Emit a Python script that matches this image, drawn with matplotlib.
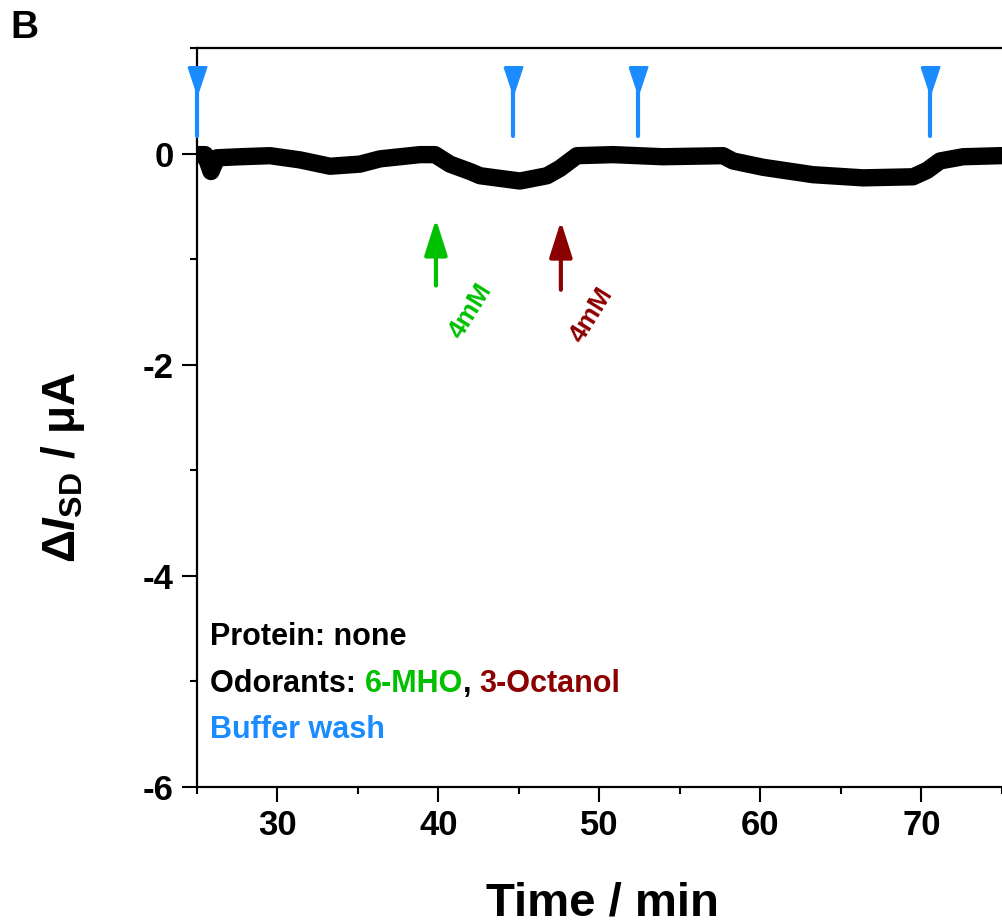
import matplotlib
matplotlib.use("Agg")
import matplotlib.pyplot as plt
from matplotlib.ticker import MultipleLocator, FixedLocator

# ---- data ----
time_min = [25.0, 25.5, 25.87, 26.24, 27.67, 29.53, 31.40, 33.26, 35.12, 36.37,
            38.85, 39.78, 40.71, 41.96, 42.58, 45.06, 46.74, 47.55, 48.60, 50.84,
            53.94, 57.67, 58.29, 60.16, 63.26, 66.37, 69.47, 70.34, 71.15, 72.58,
            74.88, 76.0]
delta_i = [-0.01, -0.01, -0.17, -0.04, -0.03, -0.02, -0.06, -0.12, -0.10, -0.05,
           -0.01, -0.01, -0.10, -0.17, -0.21, -0.26, -0.21, -0.14, -0.02, -0.01,
           -0.03, -0.02, -0.07, -0.13, -0.20, -0.23, -0.22, -0.16, -0.07, -0.03,
           -0.02, -0.02]

wash_times = [25.0, 44.6, 52.4, 70.5]
odorant_times = [39.84, 47.6]
odorant_labels = ["4mM", "4mM"]
odorant_names = ["6-MHO", "3-Octanol"]
x_ticks = [30, 40, 50, 60, 70]
y_ticks = [0, -2, -4, -6]

BLUE = "#1a8cff"
GREEN = "#00c000"
DRED = "#8b0000"
odorant_colors = [GREEN, DRED]

plt.rcParams["font.family"] = ["Liberation Sans", "DejaVu Sans"]
plt.rcParams["font.weight"] = "bold"
plt.rcParams["axes.unicode_minus"] = False
plt.rcParams["mathtext.fontset"] = "custom"
plt.rcParams["mathtext.it"] = "Liberation Sans:italic:bold"
plt.rcParams["mathtext.rm"] = "Liberation Sans:bold"
plt.rcParams["mathtext.sf"] = "Liberation Sans"

W, H = 1003, 924
fig = plt.figure(figsize=(W / 100, H / 100), dpi=100)

# axes: left spine at x=197px, bottom at 787px, top at 48px; extends beyond right edge
left = 197 / W
bottom = 1 - 787 / H
top = 1 - 48 / H
px_per_min = 16.1
xmax = 80
width = (xmax - 25) * px_per_min / W
ax = fig.add_axes([left, bottom, width, top - bottom])
ax.set_xlim(25, xmax)
ax.set_ylim(-6, 1)

# trace
ax.plot(time_min, delta_i, color="black", lw=12.5, solid_capstyle="round",
        solid_joinstyle="round", zorder=3)

# buffer wash markers
tri = [(-9, 13.5), (9, 13.5), (0, -13.5), (-9, 13.5)]
for t in wash_times:
    ax.plot([t, t], [0.17, 0.62], color=BLUE, lw=3, solid_capstyle="round",
            clip_on=False, zorder=4)
    ax.plot([t], [0.70], marker=tri, markersize=19.4, color=BLUE,
            markeredgewidth=1.5, markeredgecolor=BLUE, linestyle="none",
            clip_on=False, zorder=4)

# odorant arrows and labels
arrow_tips = [-0.62, -0.64]
arrow_tails = [-1.25, -1.29]
label_pos = [(41.96, -1.49), (49.53, -1.53)]
for t, tip, tail, col, lab, (lx, ly) in zip(odorant_times, arrow_tips, arrow_tails,
                                             odorant_colors, odorant_labels, label_pos):
    ax.annotate("", xy=(t, tip), xytext=(t, tail),
                arrowprops=dict(arrowstyle="-|>,head_length=1.1,head_width=0.35",
                                mutation_scale=20, color=col, lw=3,
                                shrinkA=0, shrinkB=0))
    ax.text(lx, ly, lab, color=col, fontsize=19, fontweight="bold",
            rotation=58, ha="center", va="center")

# ticks
ax.xaxis.set_major_locator(FixedLocator(x_ticks))
ax.xaxis.set_minor_locator(MultipleLocator(5))
ax.yaxis.set_major_locator(FixedLocator(y_ticks))
ax.yaxis.set_minor_locator(MultipleLocator(1))
ax.tick_params(axis="both", which="major", direction="out", length=11, width=1.5,
               labelsize=25)
ax.tick_params(axis="both", which="minor", direction="out", length=5, width=1.5)
ax.tick_params(axis="x", which="major", pad=5)
ax.tick_params(axis="y", which="major", pad=6)
ax.tick_params(top=False, right=False)
for lbl in ax.get_xticklabels() + ax.get_yticklabels():
    lbl.set_fontweight("bold")
for sp in ax.spines.values():
    sp.set_linewidth(1.6)

# axis labels
fig.text(602 / W, 1 - 915 / H, "Time / min", fontsize=34, fontweight="bold",
         ha="center", va="baseline")
fig.text(63 / W, 1 - 467 / H, r"$\mathit{ΔI}_{\mathsf{SD}}$ / μA", fontsize=33,
         fontweight="bold", rotation=90, ha="center", va="center")

# panel letter
fig.text(10 / W, 1 - 38 / H, "B", fontsize=28, fontweight="bold",
         ha="left", va="baseline")

# legend text
fs = 22
fig.text(210 / W, 1 - 645 / H, "Protein: none", fontsize=fs, fontweight="bold",
         color="black", ha="left", va="baseline")
t0 = fig.text(210 / W, 1 - 692 / H, "Odorants: ", fontsize=fs, fontweight="bold",
              color="black", ha="left", va="baseline")
pieces = [(odorant_names[0], GREEN), (", ", "black"), (odorant_names[1], DRED)]
prev = t0
for s, c in pieces:
    prev = ax.annotate(s, xy=(1, 0), xycoords=prev, color=c, fontsize=fs,
                       fontweight="bold", ha="left", va="bottom",
                       annotation_clip=False)
fig.text(210 / W, 1 - 738 / H, "Buffer wash", fontsize=fs, fontweight="bold",
         color=BLUE, ha="left", va="baseline")

fig.savefig("out.png", dpi=100)
